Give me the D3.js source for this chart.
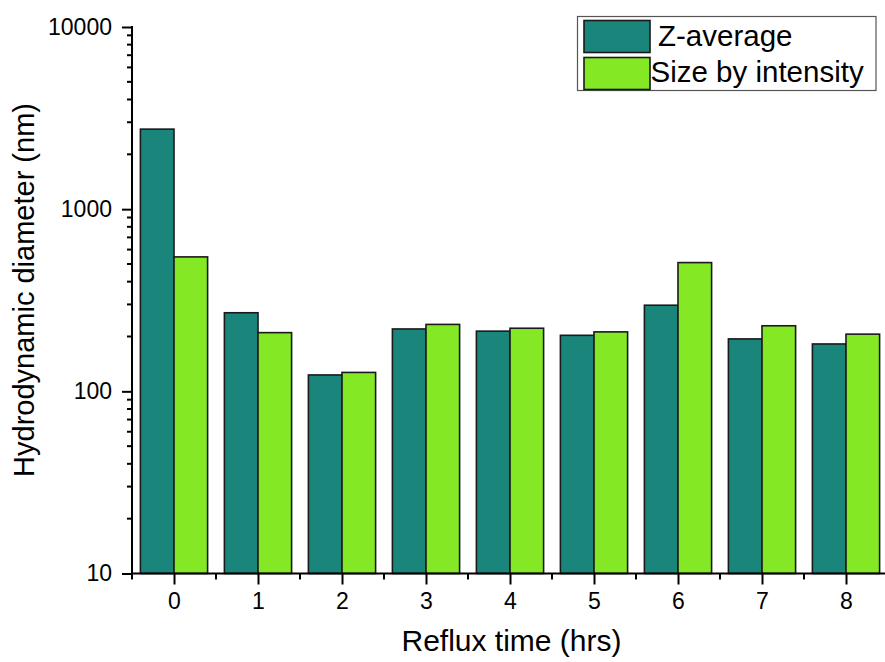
<!DOCTYPE html>
<html>
<head>
<meta charset="utf-8">
<script src="https://cdn.jsdelivr.net/npm/d3@7"></script>
<style>
  html, body { margin: 0; padding: 0; background: #fff; }
  svg { display: block; font-family: Arial, "Liberation Sans", sans-serif; }
</style>
</head>
<body>
<svg id="chart" width="885" height="662"></svg>
<script>
// Reflux time groups and measured hydrodynamic diameters (nm)
const refluxHours = [0, 1, 2, 3, 4, 5, 6, 7, 8];
const zAverage = [2750, 270, 123, 220, 214, 203, 297, 194, 182];
const sizeByIntensity = [547, 210, 127, 233, 222, 212, 509, 229, 206];
const seriesNames = ["Z-average", "Size by intensity"];
const seriesColors = ["#1a857b", "#84e824"];
const yTickValues = [10, 100, 1000, 10000];

const svg = d3.select("#chart");
const plotLeft = 132, plotRight = 888, plotTop = 27, plotBottom = 573.5;
const fontStack = "Arial, 'Liberation Sans', sans-serif";

const x = d3.scaleLinear().domain([-0.5, 8.5]).range([plotLeft, plotRight]);
const y = d3.scaleLog().domain([10, 10000]).range([plotBottom, plotTop]);

const groupW = 0.8; // fraction of one step occupied by a pair of bars
const barW = groupW / 2;

const series = [zAverage, sizeByIntensity];
series.forEach((vals, si) => {
  svg.append("g")
    .selectAll("rect")
    .data(vals)
    .join("rect")
    .attr("x", (d, i) => x(refluxHours[i] - groupW / 2 + si * barW))
    .attr("width", (d, i) => x(refluxHours[i] + barW) - x(refluxHours[i]))
    .attr("y", d => y(d))
    .attr("height", d => y(10) - y(d))
    .attr("fill", seriesColors[si])
    .attr("stroke", "#1a1a1a")
    .attr("stroke-width", 1.6);
});

// Y axis (log) with major labels and minor ticks
const minorY = [];
for (let dec = 10; dec < 10000; dec *= 10) {
  for (let k = 2; k <= 9; k++) minorY.push(dec * k);
}
const yAxis = svg.append("g").attr("transform", `translate(${plotLeft},0)`);
yAxis.call(d3.axisLeft(y).tickValues(yTickValues).tickFormat(d3.format("d")).tickSize(10).tickPadding(10))
  .call(g => g.select(".domain").remove());
yAxis.selectAll(".tick line").attr("stroke", "#000").attr("stroke-width", 2);
yAxis.selectAll(".tick text").attr("font-size", 23).attr("fill", "#000")
  .attr("font-family", fontStack);
yAxis.selectAll(".minor").data(minorY).join("line")
  .attr("class", "minor")
  .attr("x1", -5).attr("x2", 0)
  .attr("y1", d => y(d)).attr("y2", d => y(d))
  .attr("stroke", "#000").attr("stroke-width", 2);
yAxis.append("line").attr("x1", 0).attr("x2", 0).attr("y1", plotTop - 1).attr("y2", plotBottom + 1)
  .attr("stroke", "#000").attr("stroke-width", 2);

// X axis with category ticks and half-step minor ticks
const xAxis = svg.append("g").attr("transform", `translate(0,${plotBottom})`);
xAxis.call(d3.axisBottom(x).tickValues(refluxHours).tickFormat(d3.format("d")).tickSize(11).tickPadding(8))
  .call(g => g.select(".domain").remove());
xAxis.selectAll(".tick line").attr("stroke", "#000").attr("stroke-width", 2);
xAxis.selectAll(".tick text").attr("font-size", 23).attr("fill", "#000")
  .attr("font-family", fontStack);
const minorX = refluxHours.map(h => h - 0.5).concat([8.5]);
xAxis.selectAll(".minor").data(minorX).join("line")
  .attr("class", "minor")
  .attr("x1", d => x(d)).attr("x2", d => x(d))
  .attr("y1", 0).attr("y2", 6)
  .attr("stroke", "#000").attr("stroke-width", 2);
xAxis.append("line").attr("x1", plotLeft - 1).attr("x2", plotRight).attr("y1", 0).attr("y2", 0)
  .attr("stroke", "#000").attr("stroke-width", 2);

// Axis titles
svg.append("text")
  .attr("x", 511.5).attr("y", 651)
  .attr("text-anchor", "middle")
  .attr("font-size", 30)
  .text("Reflux time (hrs)");
svg.append("text")
  .attr("transform", "translate(34,290) rotate(-90)")
  .attr("text-anchor", "middle")
  .attr("font-size", 29)
  .text("Hydrodynamic diameter (nm)");

// Legend
const legend = svg.append("g");
legend.append("rect")
  .attr("x", 577.5).attr("y", 16.5).attr("width", 298.5).attr("height", 74)
  .attr("fill", "#fff").attr("stroke", "#555").attr("stroke-width", 1.2);
const legendRows = [
  { sw: 20.5, text: 46, tx: 658 },
  { sw: 57.5, text: 81.5, tx: 650.5 }
];
seriesNames.forEach((name, i) => {
  legend.append("rect")
    .attr("x", 584).attr("y", legendRows[i].sw).attr("width", 66).attr("height", 32)
    .attr("fill", seriesColors[i]).attr("stroke", "#1a1a1a").attr("stroke-width", 1.6);
  legend.append("text")
    .attr("x", legendRows[i].tx).attr("y", legendRows[i].text)
    .attr("font-size", 29.5)
    .text(name);
});
</script>
</body>
</html>
